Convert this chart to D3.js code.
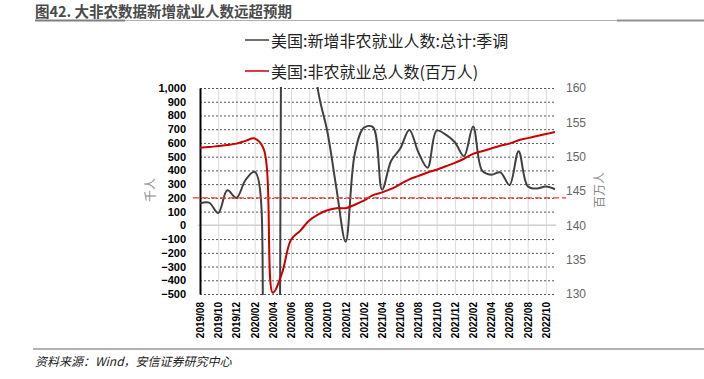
<!DOCTYPE html>
<html>
<head>
<meta charset="utf-8">
<script src="https://cdn.jsdelivr.net/npm/d3@7"></script>
<style>
  html, body { margin: 0; padding: 0; background: #fff; }
  svg { display: block; }
</style>
</head>
<body>
<div id="chart"></div>
<script>
// 月份（类目轴）
const months = [
  "2019/08","2019/09","2019/10","2019/11","2019/12",
  "2020/01","2020/02","2020/03","2020/04","2020/05","2020/06","2020/07","2020/08","2020/09","2020/10","2020/11","2020/12",
  "2021/01","2021/02","2021/03","2021/04","2021/05","2021/06","2021/07","2021/08","2021/09","2021/10","2021/11","2021/12",
  "2022/01","2022/02","2022/03","2022/04","2022/05","2022/06","2022/07","2022/08","2022/09","2022/10","2022/11"
];
const tickLabels = [
  "2019/08","2019/10","2019/12","2020/02","2020/04","2020/06","2020/08","2020/10","2020/12",
  "2021/02","2021/04","2021/06","2021/08","2021/10","2021/12","2022/02","2022/04","2022/06","2022/08","2022/10"
];
// 美国:新增非农就业人数:总计:季调（千人）
const payrolls = [
  160, 165, 90, 255, 200,
  330, 390, -1373, -20679, 2833, 4846, 1726, 1583, 970, 680, 264, -120,
  520, 710, 715, 260, 470, 560, 695, 530, 420, 690, 660, 605,
  504, 720, 398, 368, 386, 293, 540, 285, 268, 282, 263
];
// 美国:非农就业总人数（百万人）
const employment = [
  151.3, 151.4, 151.55, 151.7, 151.9,
  152.3, 152.65, 151.1, 130.2, 133.0, 137.9, 139.2, 140.7, 141.6, 142.2, 142.5, 142.5,
  143.0, 143.6, 144.4, 144.8, 145.3, 146.0, 146.7, 147.2, 147.7, 148.1, 148.6, 149.1,
  149.7, 150.4, 150.8, 151.2, 151.6, 151.9, 152.4, 152.7, 153.0, 153.3, 153.6
];
const leftTicks = [-500, -400, -300, -200, -100, 0, 100, 200, 300, 400, 500, 600, 700, 800, 900, 1000];
const rightTicks = [130, 135, 140, 145, 150, 155, 160];
const refLevel = 200;

const legendItems = [
  { name: "美国:新增非农就业人数:总计:季调", color: "#404040" },
  { name: "美国:非农就业总人数(百万人)", color: "#cc0000" }
];

const W = 704, H = 379;
const plotLeft = 200, plotRight = 555, plotTop = 88, plotBottom = 294;

const svg = d3.select("#chart").append("svg")
  .attr("width", W).attr("height", H)
  .attr("xmlns", "http://www.w3.org/2000/svg");

const x = d3.scalePoint().domain(months).range([plotLeft, plotRight]);
const yL = d3.scaleLinear().domain([-500, 1000]).range([plotBottom, plotTop]);
const yR = d3.scaleLinear().domain([130, 160]).range([plotBottom, plotTop]);

// 标题
svg.append("text")
  .attr("x", 35).attr("y", 17)
  .style("font-family", "'Noto Sans CJK SC', sans-serif")
  .style("font-size", "14.5px").style("font-weight", "bold")
  .attr("fill", "#4a4a4a")
  .text("图42. 大非农数据新增就业人数远超预期");

svg.append("line").attr("x1", 35).attr("x2", 704).attr("y1", 20.5).attr("y2", 20.5)
  .attr("stroke", "#b0b0b0").attr("stroke-width", 1);
svg.append("line").attr("x1", 35).attr("x2", 125).attr("y1", 20.5).attr("y2", 20.5)
  .attr("stroke", "#808080").attr("stroke-width", 2);
svg.append("line").attr("x1", 617).attr("x2", 704).attr("y1", 20.5).attr("y2", 20.5)
  .attr("stroke", "#909090").attr("stroke-width", 2);

// 图例
const legend = svg.append("g");
legendItems.forEach((d, i) => {
  const ly = 40 + i * 31;
  legend.append("line").attr("x1", 245).attr("x2", 269).attr("y1", ly).attr("y2", ly)
    .attr("stroke", d.color).attr("stroke-width", 1.5);
  legend.append("text").attr("x", 271).attr("y", ly)
    .attr("dominant-baseline", "central")
    .style("font-family", "'Noto Sans CJK SC', sans-serif")
    .style("font-size", "16px").attr("fill", "#222")
    .text(d.name);
});

// 竖向网格
svg.append("g")
  .attr("transform", `translate(0,${plotBottom})`)
  .call(d3.axisBottom(x).tickValues(tickLabels.slice(1)).tickSize(-(plotBottom - plotTop)).tickFormat(""))
  .call(g => g.select(".domain").remove())
  .call(g => g.selectAll(".tick line").attr("stroke", "#d9d9d9").attr("stroke-width", 1));

// 横向虚线网格
svg.append("g")
  .attr("transform", `translate(${plotLeft},0)`)
  .call(d3.axisLeft(yL).tickValues(leftTicks.filter(v => v !== 0)).tickSize(-(plotRight - plotLeft + 1)).tickFormat(""))
  .call(g => g.select(".domain").remove())
  .call(g => g.selectAll(".tick line").attr("stroke", "#555").attr("stroke-width", 1).attr("stroke-dasharray", "2,2"));

// 零线
svg.append("line").attr("x1", plotLeft - 2).attr("x2", plotRight + 1).attr("y1", yL(0)).attr("y2", yL(0))
  .attr("stroke", "#cfcfcf").attr("stroke-width", 1.5);

// 左轴
svg.append("g")
  .attr("transform", `translate(${plotLeft},0)`)
  .call(d3.axisLeft(yL).tickValues(leftTicks).tickSize(0).tickPadding(14).tickFormat(d3.format(",")))
  .call(g => g.select(".domain").attr("stroke", "#000").attr("stroke-width", 2))
  .call(g => g.selectAll("text")
    .style("font-family", "'Liberation Sans', Arial, sans-serif")
    .style("font-size", "11px").style("font-weight", "bold").attr("fill", "#000"));

// 右轴
svg.append("g")
  .attr("transform", `translate(${plotRight},0)`)
  .call(d3.axisRight(yR).tickValues(rightTicks).tickSize(0).tickPadding(11))
  .call(g => g.select(".domain").remove())
  .call(g => g.selectAll("text")
    .style("font-family", "'Liberation Sans', Arial, sans-serif")
    .style("font-size", "12px").attr("fill", "#666"));

// X 轴标签
svg.append("g")
  .attr("transform", `translate(0,${plotBottom})`)
  .call(d3.axisBottom(x).tickValues(tickLabels).tickSize(0).tickPadding(0))
  .call(g => g.select(".domain").remove())
  .call(g => g.selectAll("text")
    .attr("transform", "translate(0,8) rotate(-90)")
    .attr("x", 0).attr("y", 0).attr("dy", "0.35em")
    .style("text-anchor", "end")
    .style("font-family", "'Liberation Sans', Arial, sans-serif")
    .style("font-size", "10px").style("font-weight", "bold").attr("fill", "#000"));

// 轴标题
svg.append("text")
  .attr("transform", `translate(149,190) rotate(-90)`)
  .attr("text-anchor", "middle").attr("dominant-baseline", "central")
  .style("font-family", "'Noto Sans CJK SC', sans-serif").style("font-size", "12px")
  .attr("fill", "#888").text("千人");
svg.append("text")
  .attr("transform", `translate(598,190) rotate(-90)`)
  .attr("text-anchor", "middle").attr("dominant-baseline", "central")
  .style("font-family", "'Noto Sans CJK SC', sans-serif").style("font-size", "12px")
  .attr("fill", "#888").text("百万人");

// 裁剪
svg.append("clipPath").attr("id", "plot-clip")
  .append("rect").attr("x", plotLeft).attr("y", plotTop - 1)
  .attr("width", plotRight - plotLeft + 2).attr("height", plotBottom - plotTop + 2);

const plot = svg.append("g").attr("clip-path", "url(#plot-clip)");

const lineL = d3.line()
  .x((d, i) => x(months[i]))
  .y(d => yL(d))
  .curve(d3.curveCatmullRom.alpha(0.5));
const lineR = d3.line()
  .x((d, i) => x(months[i]))
  .y(d => yR(d))
  .curve(d3.curveCatmullRom.alpha(0.5));

plot.append("path").datum(payrolls)
  .attr("d", lineL).attr("fill", "none")
  .attr("stroke", "#404040").attr("stroke-width", 2);

plot.append("path").datum(employment)
  .attr("d", lineR).attr("fill", "none")
  .attr("stroke", "#cc0000").attr("stroke-width", 2);

// 200 参考线
svg.append("line")
  .attr("x1", 193).attr("x2", 566)
  .attr("y1", yL(refLevel)).attr("y2", yL(refLevel))
  .attr("stroke", "#ff3333").attr("stroke-width", 1.3).attr("stroke-dasharray", "6,3");

// 底部分隔线与资料来源
svg.append("line").attr("x1", 33).attr("x2", 704).attr("y1", 349).attr("y2", 349)
  .attr("stroke", "#999").attr("stroke-width", 1.5);
svg.append("text")
  .attr("x", 35).attr("y", 366)
  .style("font-family", "'Noto Sans CJK SC', sans-serif")
  .style("font-size", "12px").style("font-style", "italic")
  .attr("fill", "#222")
  .text("资料来源：Wind，安信证券研究中心");
</script>
</body>
</html>
